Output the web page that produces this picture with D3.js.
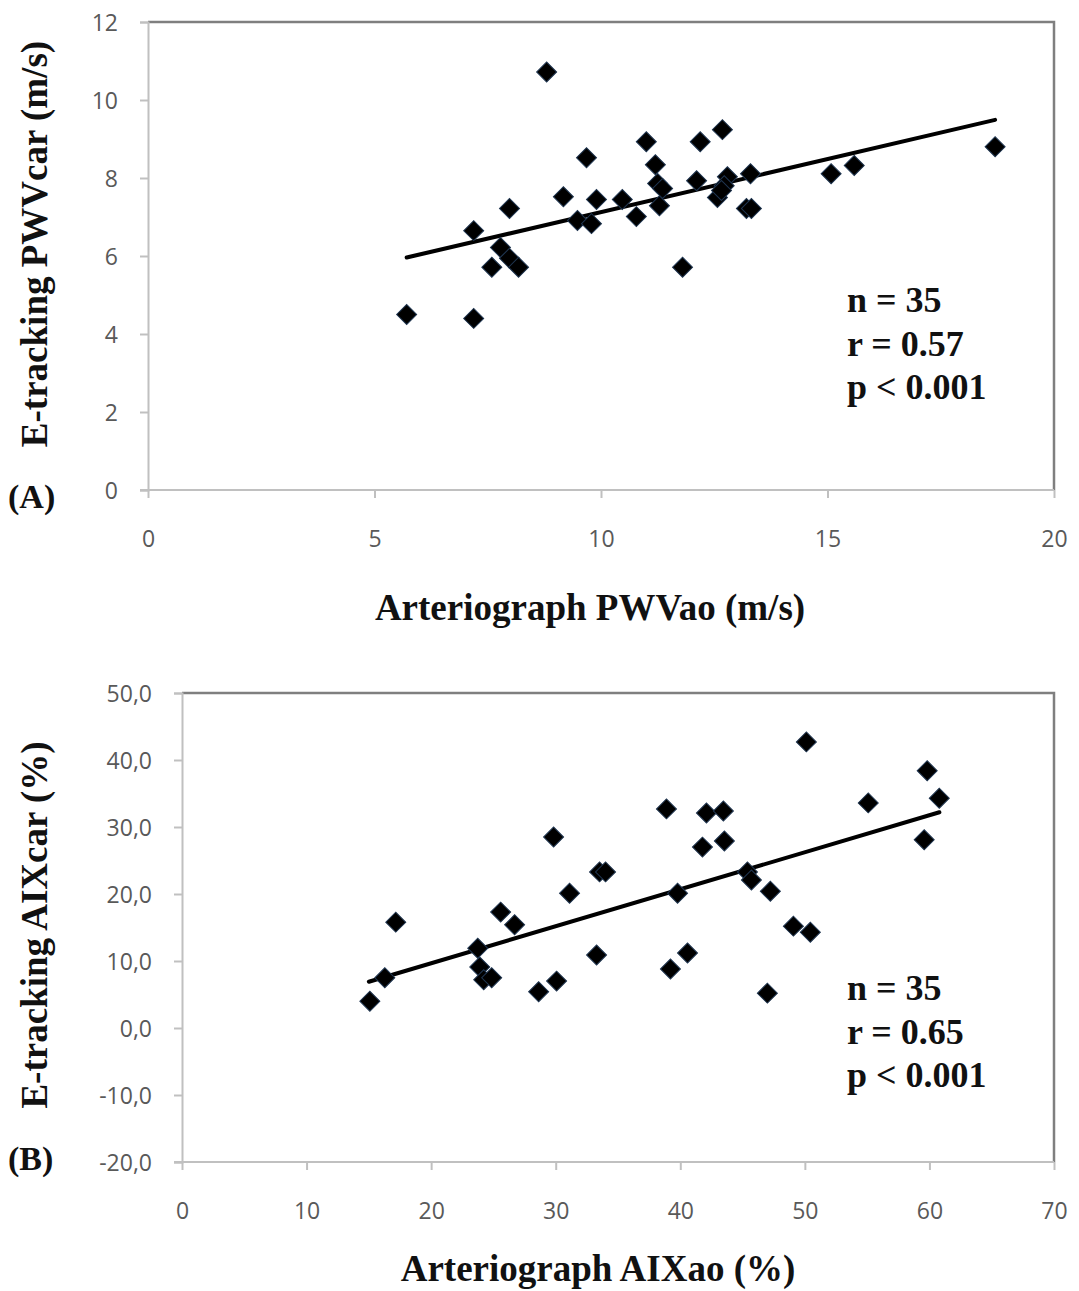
<!DOCTYPE html>
<html>
<head>
<meta charset="utf-8">
<script src="https://cdn.jsdelivr.net/npm/d3@7"></script>
<style>
  body { margin: 0; background: #fff; }
  .tick text { font-family: "Open Sans", sans-serif; font-size: 23px; fill: #595959; }
  .title { font-family: "Liberation Serif", "Times New Roman", serif; font-weight: bold; fill: #111; }
</style>
</head>
<body>
<svg id="chart"></svg>
<script>
// panel A: PWV
var pwvAo = [5.71, 7.19, 7.19, 7.59, 7.78, 7.98, 8.18, 7.98, 8.80, 9.17, 9.48, 9.68, 9.79, 9.90,
  10.47, 10.78, 11.00, 12.19, 12.68, 11.20, 11.25, 11.36, 11.29, 12.11, 12.79, 12.72, 12.57,
  13.30, 13.21, 13.32, 11.80, 15.08, 15.59, 18.70, 12.66];
var pwvCar = [4.50, 4.40, 6.65, 5.71, 6.22, 5.94, 5.71, 7.22, 10.72, 7.52, 6.91, 8.52, 6.83, 7.45,
  7.45, 7.01, 8.93, 8.93, 9.24, 8.34, 7.86, 7.73, 7.29, 7.93, 8.03, 7.80, 7.50,
  8.11, 7.22, 7.22, 5.71, 8.11, 8.32, 8.80, 7.68];
var trendA = [[5.71, 5.96], [18.7, 9.49]];
var statsA = ["n = 35", "r = 0.57", "p < 0.001"];

// panel B: AIX
var aixAo = [15.08, 16.28, 17.16, 23.74, 23.90, 24.22, 24.86, 25.58, 26.70, 28.63, 29.83, 30.07,
  31.11, 33.28, 33.52, 34.00, 38.89, 39.21, 39.78, 40.58, 41.78, 42.10, 43.46, 43.54, 45.39,
  45.71, 47.23, 46.99, 49.08, 50.44, 50.12, 55.09, 59.82, 59.58, 60.79];
var aixCar = [4.0, 7.5, 15.8, 11.9, 9.1, 7.2, 7.5, 17.3, 15.4, 5.4, 28.5, 7.0,
  20.1, 10.9, 23.3, 23.3, 32.7, 8.8, 20.1, 11.2, 27.0, 32.1, 32.4, 27.9, 23.3,
  22.1, 20.4, 5.2, 15.2, 14.3, 42.7, 33.6, 38.4, 28.1, 34.3];
var trendB = [[15.0, 6.9], [60.8, 32.2]];
var statsB = ["n = 35", "r = 0.65", "p < 0.001"];

var xTicksA = [0, 5, 10, 15, 20];
var yTicksA = [0, 2, 4, 6, 8, 10, 12];
var xTicksB = [0, 10, 20, 30, 40, 50, 60, 70];
var yTicksB = [-20, -10, 0, 10, 20, 30, 40, 50];

var W = 1079, H = 1291;
var svg = d3.select("#chart").attr("width", W).attr("height", H);

function panel(cfg) {
  var x = d3.scaleLinear().domain(cfg.xDomain).range([cfg.left, cfg.right]);
  var y = d3.scaleLinear().domain(cfg.yDomain).range([cfg.bottom, cfg.top]);
  var g = svg.append("g");

  // top + right frame (darker)
  g.append("path")
    .attr("d", `M${cfg.left},${cfg.top}H${cfg.right}V${cfg.bottom}`)
    .attr("fill", "none").attr("stroke", "#7f7f7f").attr("stroke-width", 2.5);

  var yAxis = g.append("g")
    .attr("transform", `translate(${cfg.left},0)`)
    .call(d3.axisLeft(y).tickValues(cfg.yTicks).tickSize(8).tickPadding(22)
      .tickFormat(cfg.yFmt));
  var xAxis = g.append("g")
    .attr("transform", `translate(0,${cfg.bottom})`)
    .call(d3.axisBottom(x).tickValues(cfg.xTicks).tickSize(8).tickPadding(33)
      .tickFormat(d => d));
  [yAxis, xAxis].forEach(a => {
    a.select(".domain").attr("stroke", "#c0c0c0").attr("stroke-width", 2);
    a.selectAll(".tick line").attr("stroke", "#c0c0c0").attr("stroke-width", 2);
  });
  yAxis.selectAll(".tick text").attr("dy", "0.36em");
  xAxis.select(".domain").attr("d", `M${cfg.left - 8},0H${cfg.right}`);

  // trend line
  g.append("line")
    .attr("x1", x(cfg.trend[0][0])).attr("y1", y(cfg.trend[0][1]))
    .attr("x2", x(cfg.trend[1][0])).attr("y2", y(cfg.trend[1][1]))
    .attr("stroke", "#000").attr("stroke-width", 4).attr("stroke-linecap", "round");

  // diamond markers
  var sym = d3.symbol().type(d3.symbolSquare).size(200);
  g.selectAll("path.pt")
    .data(cfg.xs.map((v, i) => [v, cfg.ys[i]]))
    .enter().append("path")
    .attr("class", "pt")
    .attr("d", sym)
    .attr("transform", d => `translate(${x(d[0])},${y(d[1])}) rotate(45)`)
    .attr("fill", "#000")
    .attr("stroke", "#1f3550").attr("stroke-width", 1);

  // stats text
  g.selectAll("text.stat")
    .data(cfg.stats).enter().append("text")
    .attr("class", "title stat")
    .attr("x", cfg.statX).attr("y", (d, i) => cfg.statY + i * 43.5)
    .attr("font-size", 36).text(d => d);

  // axis titles
  g.append("text").attr("class", "title")
    .attr("x", cfg.xTitleX).attr("y", cfg.xTitleY)
    .attr("text-anchor", "middle").attr("font-size", 37).text(cfg.xTitle);
  g.append("text").attr("class", "title")
    .attr("transform", `translate(47,${cfg.yTitleY}) rotate(-90)`)
    .attr("text-anchor", "middle").attr("font-size", 37).text(cfg.yTitle);
  g.append("text").attr("class", "title")
    .attr("x", 8).attr("y", cfg.tagY)
    .attr("font-size", 34).text(cfg.tag);
}

panel({
  xs: pwvAo, ys: pwvCar, trend: trendA, stats: statsA,
  xDomain: [0, 20], yDomain: [0, 12], xTicks: xTicksA, yTicks: yTicksA,
  yFmt: d => d,
  left: 148, right: 1054, top: 22, bottom: 490,
  statX: 847, statY: 312,
  xTitle: "Arteriograph PWVao (m/s)", xTitleX: 590, xTitleY: 620,
  yTitle: "E-tracking PWVcar (m/s)", yTitleY: 244,
  tag: "(A)", tagY: 508
});

panel({
  xs: aixAo, ys: aixCar, trend: trendB, stats: statsB,
  xDomain: [0, 70], yDomain: [-20, 50], xTicks: xTicksB, yTicks: yTicksB,
  yFmt: d => d.toFixed(1).replace(".", ","),
  left: 182, right: 1054, top: 693, bottom: 1162,
  statX: 847, statY: 1000,
  xTitle: "Arteriograph AIXao (%)", xTitleX: 598, xTitleY: 1281,
  yTitle: "E-tracking AIXcar (%)", yTitleY: 925,
  tag: "(B)", tagY: 1170
});
</script>
</body>
</html>
